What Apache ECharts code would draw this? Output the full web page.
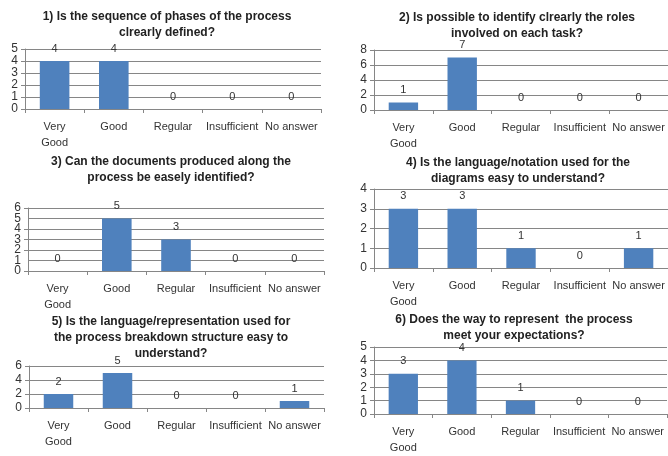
<!DOCTYPE html>
<html>
<head>
<meta charset="utf-8">
<script src="https://cdn.jsdelivr.net/npm/echarts@6/dist/echarts.min.js"></script>
<style>
html, body { margin: 0; padding: 0; background: #fff; }
#main { width: 668px; height: 456px; }
</style>
</head>
<body>
<div id="main"></div>
<script>
var categories = ['Very\nGood', 'Good', 'Regular', 'Insufficient', 'No answer'];

var titles = [
    '1) Is the sequence of phases of the process\nclrearly defined?',
    '2) Is possible to identify clrearly the roles\ninvolved on each task?',
    '3) Can the documents produced along the\nprocess be easely identified?',
    '4) Is the language/notation used for the\ndiagrams easy to understand?',
    '5) Is the language/representation used for\nthe process breakdown structure easy to\nunderstand?',
    '6) Does the way to represent  the process\nmeet your expectations?'
];

var q1 = [4, 4, 0, 0, 0];
var q2 = [1, 7, 0, 0, 0];
var q3 = [0, 5, 3, 0, 0];
var q4 = [3, 3, 1, 0, 1];
var q5 = [2, 5, 0, 0, 1];
var q6 = [3, 4, 1, 0, 0];
var values = [q1, q2, q3, q4, q5, q6];

var axisMax = [5, 8, 6, 4, 6, 5];
var axisStep = [1, 2, 1, 1, 2, 1];

// panel boxes: left, top, width, height of plot area, title centre x, title top
var panels = [
    {left: 25, top: 49, width: 296, height: 60, tx: 162, ty: 4},
    {left: 374, top: 50, width: 296, height: 60, tx: 512, ty: 5},
    {left: 28, top: 208, width: 296, height: 63, tx: 166, ty: 149},
    {left: 374, top: 189, width: 299, height: 79, tx: 513, ty: 150},
    {left: 29, top: 366, width: 295, height: 42, tx: 166, ty: 309},
    {left: 374, top: 347, width: 293, height: 70, tx: 509, ty: 307}
];

var font = 'Liberation Sans, Arial, sans-serif';
var gray = '#868686';
var title = [], grid = [], xAxis = [], yAxis = [], series = [], extraY = [];

for (var i = 0; i < 6; i++) {
    var p = panels[i];
    title.push({
        text: titles[i],
        left: p.tx,
        top: p.ty,
        textAlign: 'center',
        textStyle: {fontSize: 12, fontWeight: 'bold', color: '#222', lineHeight: 16, fontFamily: font}
    });
    grid.push({left: p.left, top: p.top, width: p.width, height: p.height});
    xAxis.push({
        type: 'category',
        gridIndex: i,
        data: categories,
        axisLine: {lineStyle: {color: gray}},
        axisTick: {show: true, length: 4, lineStyle: {color: gray}},
        axisLabel: {interval: 0, color: '#333', fontSize: 11, lineHeight: 16, margin: 10, fontFamily: font}
    });
    yAxis.push({
        type: 'value',
        gridIndex: i,
        position: 'left',
        min: 0,
        max: axisMax[i],
        interval: axisStep[i],
        axisLine: {show: true, lineStyle: {color: gray}},
        axisTick: {show: true, length: 4, lineStyle: {color: gray}},
        axisLabel: {color: '#333', fontSize: 12, margin: 7, fontFamily: font, showMinLabel: true, showMaxLabel: true},
        splitLine: {lineStyle: {color: gray}}
    });
    // tight panels: echarts drops the labels next to min/max, so put them back on an overlay axis
    if (p.height / (axisMax[i] / axisStep[i]) < 12) {
        extraY.push({
            type: 'value',
            gridIndex: i,
            position: 'left',
            min: 0,
            max: axisMax[i],
            interval: axisStep[i],
            axisLine: {show: false},
            axisTick: {show: false},
            splitLine: {show: false},
            axisLabel: {
                color: '#333', fontSize: 12, margin: 7, fontFamily: font,
                showMinLabel: false, showMaxLabel: false,
                formatter: (function (step, max) {
                    return function (v) { return (v === step || v === max - step) ? String(v) : ''; };
                })(axisStep[i], axisMax[i])
            }
        });
    }
    series.push({
        type: 'bar',
        xAxisIndex: i,
        yAxisIndex: i,
        data: values[i],
        barWidth: '50%',
        itemStyle: {color: '#4F81BD'},
        label: {show: true, position: 'top', distance: 7, color: '#333', fontSize: 11, fontFamily: font}
    });
}

var myChart = echarts.init(document.getElementById('main'));
myChart.setOption({
    animation: false,
    title: title,
    grid: grid,
    xAxis: xAxis,
    yAxis: yAxis.concat(extraY),
    series: series
});
</script>
</body>
</html>
